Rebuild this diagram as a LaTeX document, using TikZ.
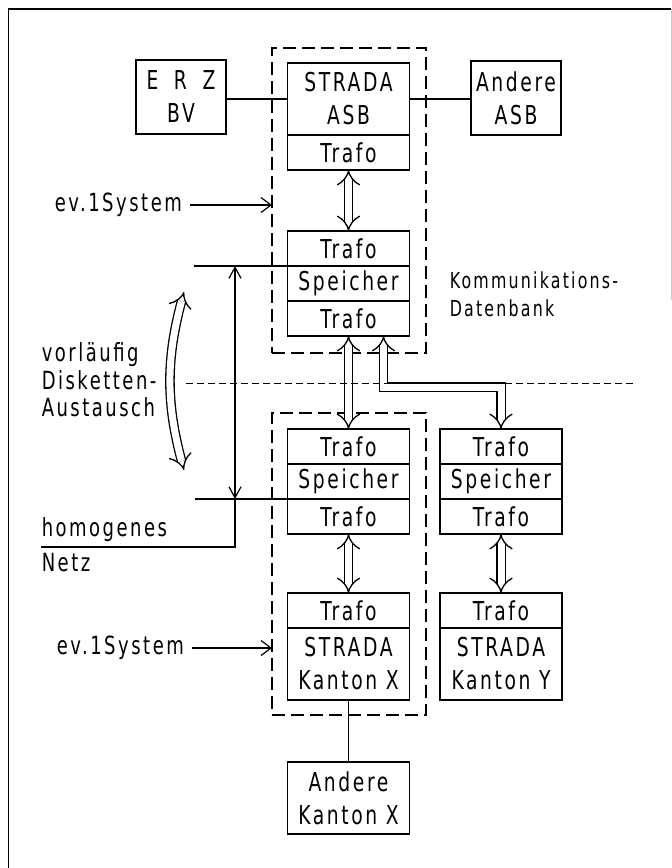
\documentclass[tikz,border=0pt]{standalone}
\usepackage{fontspec}
\setmainfont{DejaVu Sans}[FakeStretch=0.72,LetterSpace=10]
\usetikzlibrary{positioning,arrows.meta}

\begin{document}
\begin{tikzpicture}
[x=1pt,y=-1pt,line width=1.5pt,
 box/.style={draw,outer sep=0pt,inner sep=0pt,minimum width=122pt,minimum height=35pt,
   align=center,font=\fontsize{26}{33}\selectfont},
 tall/.style={box,minimum height=72pt},
 small/.style={box,minimum width=90pt,minimum height=74pt},
 dashbox/.style={draw,line width=1.4pt,outer sep=0pt,minimum width=154pt,dash pattern=on 13pt off 6pt},
 hollow/.style={double,double distance=7pt,line width=1.3pt,{Implies[scale=1.4]}-{Implies[scale=1.4]}},
 pointer/.style={line width=1.2pt,-{Straight Barb[length=10pt,width=15pt]}},
 measure/.style={line width=1.2pt,{Straight Barb[length=11pt,width=12pt]}-{Straight Barb[length=11pt,width=12pt]}},
 note/.style={inner sep=0pt,anchor=west,align=left,font=\fontsize{25}{28}\selectfont}]
\useasboundingbox (0,0) rectangle (672,868);
\draw[line width=1.2pt] (8.5,868) -- (8.5,9) -- (671,9);
\draw[line width=0.6pt,gray!40] (671,9) -- (671,300);
\node[dashbox,minimum height=305pt] (topgrp) at (349,200.5) {};
\node[dashbox,minimum height=302pt] (lowgrp) at (349,564) {};
\node[tall] (asb) at (348.5,99) {STRADA\\ASB};
\node[box,below=0pt of asb] (asbtr) {Trafo};
\node[small] (erz) at (181,97) {E\hspace{0.6em}R\hspace{0.6em}Z\\BV};
\node[small] (andasb) at (516,98) {Andere\\ASB};
\node[box] (kt1) at (348.5,248.5) {Trafo};
\node[box,below=0pt of kt1] (ksp) {Speicher};
\node[box,below=0pt of ksp] (kt2) {Trafo};
\node[box] (lt1) at (348.5,446.5) {Trafo};
\node[box,below=0pt of lt1] (lsp) {Speicher};
\node[box,below=0pt of lsp] (lt2) {Trafo};
\node[box] (rt1) at (501,446.5) {Trafo};
\node[box,below=0pt of rt1] (rsp) {Speicher};
\node[box,below=0pt of rsp] (rt2) {Trafo};
\node[box] (xt) at (348.5,610.5) {Trafo};
\node[tall,below=0pt of xt] (xstr) {STRADA\\Kanton X};
\node[box] (yt) at (501,610.5) {Trafo};
\node[tall,below=0pt of yt] (ystr) {STRADA\\Kanton Y};
\node[tall] (andx) at (348.5,798) {Andere\\Kanton X};
\draw (asb.west) -- (asb.west -| erz.east);
\draw (asb.east) -- (asb.east -| andasb.west);
\draw (xstr) -- (andx);
\draw[hollow] (asbtr) -- (kt1);
\draw[hollow] (kt2) -- (lt1);
\draw[hollow] (lt2) -- (xt);
\draw[hollow] (rt2) -- (yt);
\coordinate (split) at (0,387);
\draw[hollow] ([xshift=35pt]kt2.south) |- (split -| rt1.north) -- (rt1.north);
\draw[line width=1pt,dash pattern=on 7pt off 4pt] (186,383) -- (636,383);
\node[note] (ev1) at (54,205) {ev.1System};
\draw[pointer] ([xshift=7pt]ev1.east) -- (ev1 -| topgrp.west);
\node[note] (ev2) at (56,648) {ev.1System};
\draw[pointer] ([xshift=7pt]ev2.east) -- (ev2 -| lowgrp.west);
\node[note,font=\fontsize{22}{28}\selectfont] (komm) at (449,294) {Kommunikations-\\Datenbank};
\node[note,font=\fontsize{25}{27.5}\selectfont] (disk) at (41,380) {vorläufig\\Disketten-\\Austausch};
\coordinate (swtop) at (184,292);
\coordinate (swbot) at (184,470);
\draw[hollow] (swtop) to[bend right=15] (swbot);
\draw (ksp.north west) -- +(-94,0);
\draw (lsp.south west) -- +(-93,0);
\coordinate (dim) at (235,0);
\coordinate (netz) at (41,547);
\draw[measure] (dim |- ksp.north west) -- (dim |- lsp.south west);
\draw[line width=1.2pt] (dim |- lsp.south west) |- (netz);
\node[note] (hom) at (41,530) {homogenes};
\node[note] (nz) at (41,563) {Netz};
\end{tikzpicture}
\end{document}
